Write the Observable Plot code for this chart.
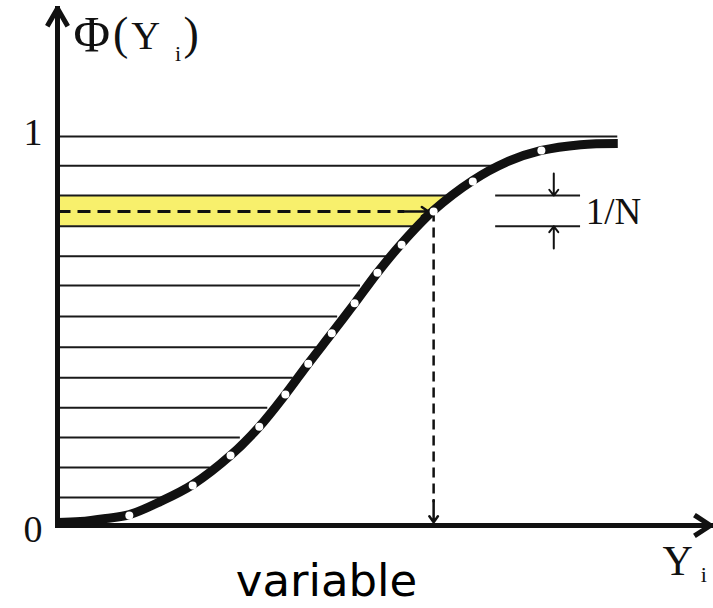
<!DOCTYPE html>
<html><head><meta charset="utf-8">
<script src="https://cdn.jsdelivr.net/npm/d3@7"></script>
<script src="https://cdn.jsdelivr.net/npm/@observablehq/plot@0.6"></script>
<style>html,body{margin:0;padding:0;background:#fff}svg{display:block}</style>
</head><body><div id="chart"></div>
<script>
const levels    = [0.072, 0.149, 0.226, 0.303, 0.380, 0.458, 0.537, 0.617, 0.692, 0.769, 0.848, 0.925, 1.0];
const levelEnds = [1.70, 2.34, 2.80, 3.22, 3.61, 3.98, 4.29, 4.64, 5.05, 5.56, 6.02, 6.68, 8.58];

// Cumulative distribution curve Φ(Y)
const curveX = [0, 0.35, 0.74, 1.10, 1.58, 2.07, 2.65, 3.09, 3.49, 3.84, 4.20, 4.55, 4.90, 5.27, 5.76, 6.36, 6.86, 7.41, 8.01, 8.58];
const curveY = [0.008, 0.010, 0.018, 0.028, 0.062, 0.105, 0.180, 0.254, 0.337, 0.416, 0.494, 0.571, 0.650, 0.725, 0.810, 0.887, 0.933, 0.964, 0.979, 0.982];

// Sample points (white dots) on the curve
const sampleX = [1.10, 2.07, 2.65, 3.09, 3.49, 3.84, 4.20, 4.55, 4.90, 5.27, 5.76, 6.36, 7.41];
const sampleY = [0.026, 0.103, 0.180, 0.254, 0.337, 0.416, 0.494, 0.571, 0.650, 0.722, 0.807, 0.884, 0.964];

// Highlighted band (between two step levels) and the selected sample
const bandY  = [0.769, 0.848];
const bandX2 = [5.56, 6.02];
const pickX = 5.76, pickY = 0.807;

// 1/N annotation
const nLevels = [0.769, 0.848];
const nX1 = 6.71, nX2 = 8.01, nArrowX = 7.60;
const nArrowFrom = [0.905, 0.712];
const nArrowTo   = [0.848, 0.769];

// Axis extents
const xMax = 10.0, yMax = 1.329;

// Tick labels
const tickLabels = ["0", "1"];
const tickValues = [-0.0437, 0.977];
const tickX = -0.375;

const band = bandY.map((y, i) => ({y, x1: 0, x2: bandX2[i]}));
const curve = curveX.map((x, i) => ({x, y: curveY[i]}));
const samples = sampleX.map((x, i) => ({x, y: sampleY[i]}));
const serif = "Liberation Serif, Times New Roman, serif";

const chart = Plot.plot({
  width: 713, height: 608,
  marginLeft: 57, marginRight: 3, marginTop: 8, marginBottom: 83,
  x: {domain: [0, xMax], axis: null},
  y: {domain: [0, yMax], axis: null},
  style: {background: "#fff", fontFamily: serif, color: "#111"},
  marks: [
    Plot.areaX(band, {y: "y", x1: "x1", x2: "x2", fill: "#f8f06c"}),
    Plot.ruleY(levels, {y: d => d, x1: 0, x2: (d, i) => levelEnds[i], stroke: "#1a1a1a", strokeWidth: 2}),
    Plot.ruleY(nLevels, {y: d => d, x1: nX1, x2: nX2, stroke: "#1a1a1a", strokeWidth: 2}),
    // dashed horizontal arrow
    Plot.link([0], {x1: 0, x2: pickX - 0.45, y1: pickY, y2: pickY, stroke: "#111", strokeWidth: 3, strokeDasharray: "13,7"}),
    Plot.arrow([0], {x1: pickX - 0.45, x2: pickX - 0.08, y1: pickY, y2: pickY, stroke: "#111", strokeWidth: 2.5, headLength: 5, headAngle: 70}),
    // dashed vertical arrow
    Plot.link([0], {x1: pickX, x2: pickX, y1: pickY, y2: 0.06, stroke: "#111", strokeWidth: 2.5, strokeDasharray: "10,6"}),
    Plot.arrow([0], {x1: pickX, x2: pickX, y1: 0.065, y2: 0.008, stroke: "#111", strokeWidth: 2.5, headLength: 5, headAngle: 70}),
    // axes with arrowheads
    Plot.arrow([0], {x1: 0, y1: 0, x2: 0, y2: yMax, stroke: "#111", strokeWidth: 5, headLength: 5.4, headAngle: 60, strokeLinecap: "square"}),
    Plot.arrow([0], {x1: 0, y1: 0, x2: xMax, y2: 0, stroke: "#111", strokeWidth: 5, headLength: 5, headAngle: 66, strokeLinecap: "square"}),
    // curve and points
    Plot.line(curve, {x: "x", y: "y", curve: "catmull-rom", stroke: "#111", strokeWidth: 9, strokeLinecap: "butt"}),
    Plot.dot(samples, {x: "x", y: "y", r: 4, fill: "#fff", stroke: null}),
    // 1/N arrows
    Plot.arrow(nArrowFrom, {x1: nArrowX, x2: nArrowX, y1: d => d, y2: (d, i) => nArrowTo[i], stroke: "#111", strokeWidth: 2, headLength: 6, headAngle: 75}),
    Plot.text(["1/N"], {x: nX2 + 0.08, y: 0.805, text: d => d, textAnchor: "start", lineAnchor: "middle", fontSize: 37, fontFamily: serif, fill: "#111"}),
    // tick labels
    Plot.text(tickLabels, {x: tickX, y: (d, i) => tickValues[i], text: d => d, textAnchor: "middle", lineAnchor: "bottom", fontSize: 38, fontFamily: serif, fill: "#111"}),
    // y-axis label Φ(Yi)
    Plot.text(["Φ"], {x: 0.245, y: 1.221, text: d => d, textAnchor: "start", lineAnchor: "bottom", fontSize: 50, fontFamily: serif, fill: "#111"}),
    Plot.text(["("], {x: 0.85, y: 1.226, text: d => d, textAnchor: "start", lineAnchor: "bottom", fontSize: 46, fontFamily: serif, fill: "#111"}),
    Plot.text(["Y"], {x: 1.13, y: 1.226, text: d => d, textAnchor: "start", lineAnchor: "bottom", fontSize: 40, fontFamily: serif, fill: "#111"}),
    Plot.text(["i"], {x: 1.80, y: 1.195, text: d => d, textAnchor: "start", lineAnchor: "bottom", fontSize: 22, fontFamily: serif, fill: "#111"}),
    Plot.text([")"], {x: 1.93, y: 1.226, text: d => d, textAnchor: "start", lineAnchor: "bottom", fontSize: 46, fontFamily: serif, fill: "#111"}),
    // x-axis label Yi
    Plot.text(["Y"], {x: 9.265, y: -0.1285, text: d => d, textAnchor: "start", lineAnchor: "bottom", fontSize: 42, fontFamily: serif, fill: "#111"}),
    Plot.text(["i"], {x: 9.85, y: -0.1465, text: d => d, textAnchor: "start", lineAnchor: "bottom", fontSize: 22, fontFamily: serif, fill: "#111"}),
    // caption
    Plot.text(["variable"], {x: 4.12, y: -0.182, text: d => d, textAnchor: "middle", lineAnchor: "bottom", fontSize: 45, fontFamily: "DejaVu Sans, Verdana, sans-serif", fill: "#000"})
  ]
});
document.getElementById("chart").appendChild(chart);
</script>
</body></html>
